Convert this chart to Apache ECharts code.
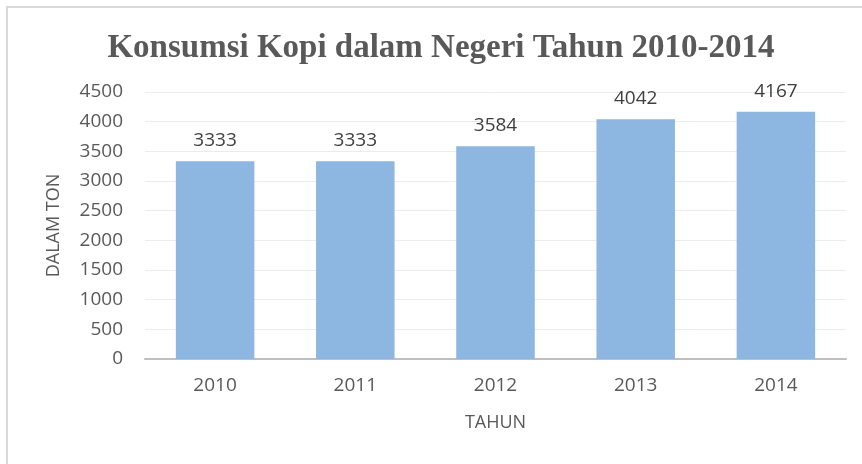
<!DOCTYPE html>
<html>
<head>
<meta charset="utf-8">
<script src="https://cdn.jsdelivr.net/npm/echarts@6/dist/echarts.min.js"></script>
<style>
  html, body { margin: 0; padding: 0; background: #fff; }
  #chart { width: 862px; height: 464px; }
</style>
</head>
<body>
<div id="chart"></div>
<script>
  // data
  var years = ['2010', '2011', '2012', '2013', '2014'];
  var konsumsi = [3333, 3333, 3584, 4042, 4167];

  var textColor = '#595959';
  var labelFont = '"Open Sans", "Liberation Sans", sans-serif';

  var myChart = echarts.init(document.getElementById('chart'), null, { renderer: 'canvas' });

  var option = {
    backgroundColor: '#fff',
    animation: false,
    title: {
      text: 'Konsumsi Kopi dalam Negeri Tahun 2010-2014',
      left: 436,
      top: 27,
      textAlign: 'center',
      textStyle: {
        color: textColor,
        fontFamily: '"Liberation Serif", "Times New Roman", serif',
        fontWeight: 'bold',
        fontSize: 33
      }
    },
    // kotak grafik
    graphic: [
      {
        type: 'polyline',
        shape: { points: [[7, 464], [7, 7], [862, 7]] },
        style: { stroke: '#d9d9d9', lineWidth: 2, fill: null },
        silent: true
      }
    ],
    grid: {
      left: 145,
      right: 16,
      top: 92,
      bottom: 105
    },
    xAxis: {
      type: 'category',
      data: years,
      name: 'TAHUN',
      nameLocation: 'middle',
      nameGap: 55,
      nameTextStyle: { color: textColor, fontSize: 18, fontFamily: labelFont },
      axisLine: { lineStyle: { color: '#bfbfbf', width: 2 } },
      axisTick: { show: false },
      axisLabel: { color: textColor, fontSize: 19, fontFamily: labelFont, margin: 17 }
    },
    yAxis: {
      type: 'value',
      min: 0,
      max: 4500,
      interval: 500,
      name: 'DALAM TON',
      nameLocation: 'middle',
      nameGap: 82,
      nameTextStyle: { color: textColor, fontSize: 18, fontFamily: labelFont },
      axisLine: { show: false },
      axisTick: { show: false },
      axisLabel: {
        color: textColor,
        fontSize: 19,
        fontFamily: labelFont,
        margin: 22,
        formatter: function (v) { return String(v); }
      },
      splitLine: { lineStyle: { color: '#ececec', width: 1 } }
    },
    series: [
      {
        type: 'bar',
        data: konsumsi,
        barCategoryGap: '44%',
        itemStyle: { color: '#8db6e0' },
        label: {
          show: true,
          position: 'top',
          distance: 11,
          color: '#404040',
          fontSize: 19,
          fontFamily: labelFont
        }
      }
    ]
  };

  myChart.setOption(option);
</script>
</body>
</html>
